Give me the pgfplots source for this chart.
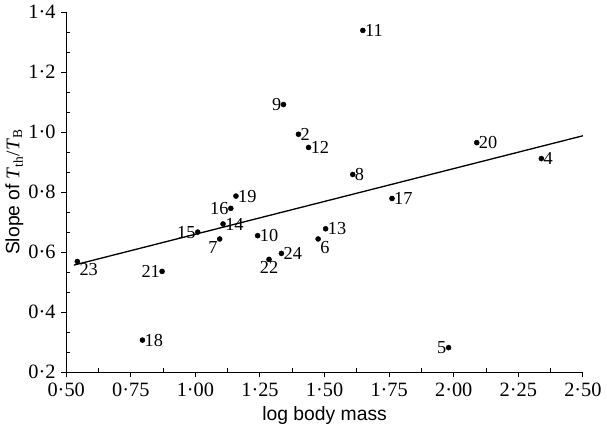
\documentclass[border=0pt]{standalone}
\usepackage{pgfplots}
\pgfplotsset{compat=1.18}
\usepackage{fontspec}
\setmainfont{Liberation Serif}
\setsansfont{Liberation Sans}
\begin{document}
\fontsize{16}{19}\selectfont
\begin{tikzpicture}
\begin{axis}[
  scale only axis,
  width=508pt, height=354pt,
  xmin=0.5, xmax=2.5, ymin=0.2, ymax=1.4,
  axis lines*=left,
  axis line style={line width=1.3pt},
  xtick={0.625,0.875,...,2.4},
  ytick={0.2667,0.3333,0.4667,0.5333,0.6667,0.7333,0.8667,0.9333,1.0667,1.1333,1.2667,1.3333},
  xticklabels={}, yticklabels={},
  tick align=inside,
  major tick length=4pt,
  tick style={line width=1pt, black},
  extra x ticks={0.5,0.75,...,2.5},
  extra y ticks={0.2,0.4,...,1.4},
  extra tick style={tick align=outside, major tick length=5pt},
  /pgf/number format/assume math mode=true,
  /pgf/number format/set decimal separator={\textperiodcentered},
  extra x tick style={xticklabel style={/pgf/number format/.cd,fixed,fixed zerofill,precision=2}},
  extra y tick style={yticklabel style={/pgf/number format/.cd,fixed,fixed zerofill,precision=1}},
  ticklabel style={font=\fontsize{20}{24}\selectfont},
  xlabel={\sffamily log body mass},
  ylabel={{\sffamily Slope of} \textit{T}\textsubscript{th}/\textit{T}\textsubscript{B}},
  label style={font=\fontsize{19}{22}\selectfont},
  xlabel style={yshift=1pt},
  ylabel style={yshift=-6pt},
  clip=false,
  lbl/.style={only marks, mark=*, mark size=2.5pt, black,
    point meta=explicit symbolic, nodes near coords,
    every node near coord/.append style={anchor=#1, font=\fontsize{18}{21}\selectfont, inner sep=2pt, black}},
]
\addplot[lbl=west] table[meta=lab] {
x y lab
1.399 0.993 2
2.339 0.912 4
1.609 0.859 8
1.241 0.655 10
1.648 1.339 11
1.438 0.949 12
1.504 0.678 13
1.107 0.694 14
1.761 0.779 17
0.795 0.307 18
1.157 0.787 19
2.089 0.965 20
1.333 0.596 24
};
\addplot[lbl=east] table[meta=lab] {
x y lab
1.980 0.282 5
1.341 1.092 9
1.009 0.667 15
1.137 0.746 16
0.871 0.536 21
};
\addplot[lbl=north west] table[meta=lab] {
x y lab
1.475 0.644 6
0.543 0.569 23
};
\addplot[lbl=north east] table[meta=lab] {
x y lab
1.094 0.644 7
};
\addplot[lbl=north] table[meta=lab] {
x y lab
1.285 0.576 22
};
\addplot[black, line width=1.3pt] coordinates {(0.53,0.557) (2.5,0.988)};
\end{axis}
\end{tikzpicture}
\end{document}
